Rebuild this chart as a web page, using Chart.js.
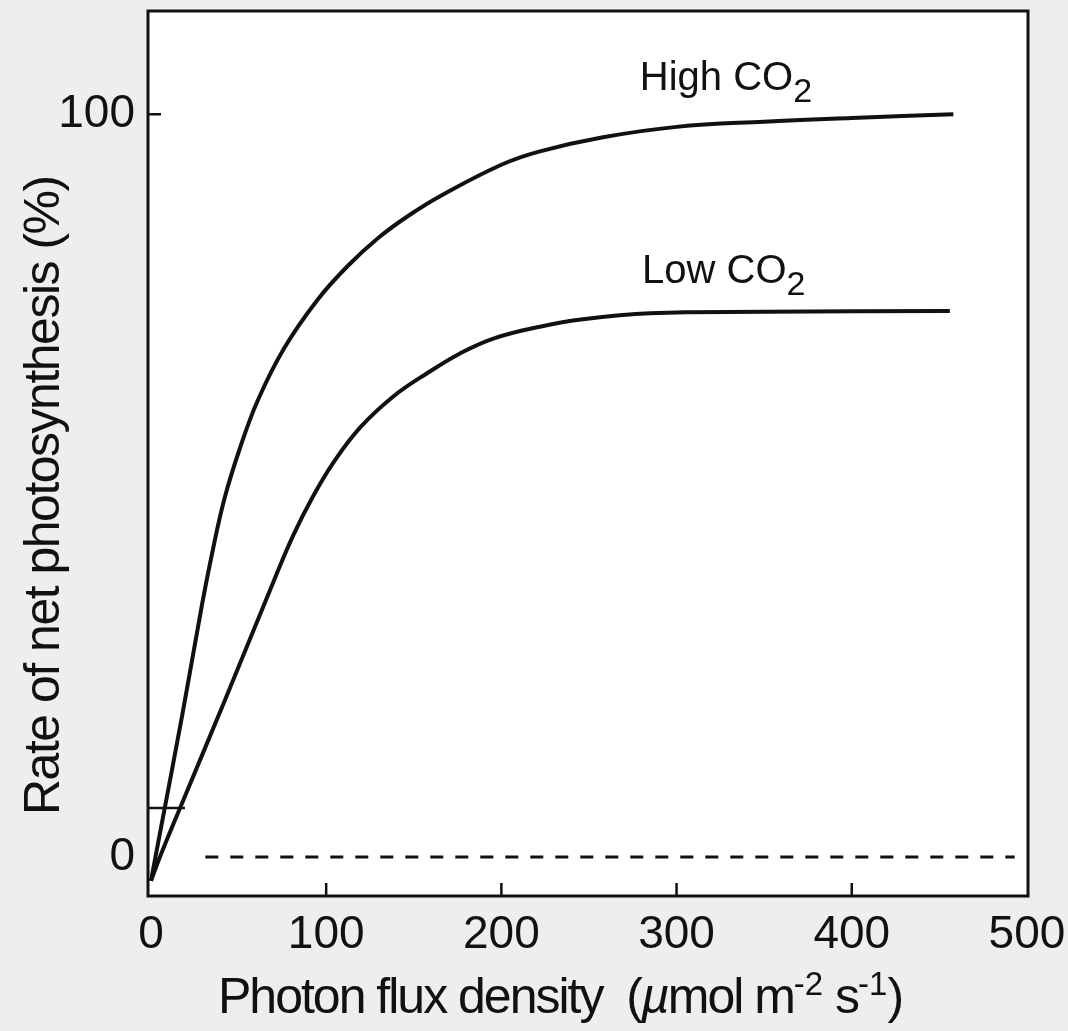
<!DOCTYPE html>
<html>
<head>
<meta charset="utf-8">
<title>Net photosynthesis vs photon flux density</title>
<script src="https://cdn.jsdelivr.net/npm/chart.js@4"></script>
<style>
    html, body { margin: 0; padding: 0; background: #eeeeee; }
    canvas { display: block; }
</style>
</head>
<body>
<canvas id="chart" width="1068" height="1031"></canvas>
<script>
// Photon flux density (umol m-2 s-1) against relative net photosynthesis (%)
const highCo2Flux = [0, 6, 18, 29, 35, 42, 51, 61, 76, 95, 112, 130, 148, 166, 200, 222, 258, 300, 350, 400, 458];
const highCo2Rate = [-3.2, 4.3, 19.3, 33.8, 41, 48.3, 55.2, 61.5, 68.5, 75, 79.5, 83.4, 86.5, 89.1, 93.2, 95, 96.9, 98.3, 99, 99.5, 100];

const lowCo2Flux = [0, 5.1, 16.6, 42.2, 69.8, 81.2, 92.6, 104.1, 119.3, 138.3, 157.4, 176.4, 195.4, 222, 246.6, 284.8, 350, 456];
const lowCo2Rate = [-3.2, 0, 6.6, 21.1, 37, 43.3, 48.6, 53.1, 57.8, 62, 65.1, 67.8, 69.8, 71.4, 72.4, 73.2, 73.4, 73.5];

// dashed zero line and the short mark next to the y axis
const zeroLineFlux = [31, 493];
const zeroLineRate = [0, 0];
const markFlux = [-1.7, 19.4];
const markRate = [6.6, 6.6];

const xTickValues = [0, 100, 200, 300, 400, 500];
const yTickValues = [0, 100];

const FONT = "'Liberation Sans', Arial, Helvetica, sans-serif";
const INK = '#111111';

function toPoints(xs, ys) {
    return xs.map((x, i) => ({ x: x, y: ys[i] }));
}

/**
 * Draw a run of text pieces (for sub/superscripts)
 */
function drawRich(ctx, parts, x, y) {
    let cx = x;
    parts.forEach(p => {
        ctx.font = (p.italic ? 'italic ' : '') + p.size + 'px ' + FONT;
        ctx.letterSpacing = (p.spacing || 0) + 'px';
        ctx.fillText(p.t, cx, y + (p.dy || 0));
        cx += ctx.measureText(p.t).width;
    });
    ctx.letterSpacing = '0px';
}

// grey page, white plot area
const backgroundPlugin = {
    id: 'background',
    beforeDraw(chart) {
        const { ctx, chartArea: a } = chart;
        ctx.save();
        ctx.fillStyle = '#eeeeee';
        ctx.fillRect(0, 0, chart.width, chart.height);
        ctx.fillStyle = '#ffffff';
        ctx.fillRect(a.left, a.top, a.right - a.left, a.bottom - a.top);
        ctx.restore();
    }
};

// frame, inward ticks, titles and curve labels
const decorPlugin = {
    id: 'decor',
    afterDraw(chart) {
        const { ctx, chartArea: a } = chart;
        const xs = chart.scales.x;
        const ys = chart.scales.y;
        ctx.save();
        ctx.strokeStyle = INK;
        ctx.fillStyle = INK;

        ctx.lineWidth = 3;
        ctx.strokeRect(a.left, a.top, a.right - a.left, a.bottom - a.top);

        ctx.lineWidth = 2.5;
        ctx.beginPath();
        xTickValues.forEach(v => {
            if (v <= 0 || v >= 500) return;
            const px = xs.getPixelForValue(v);
            ctx.moveTo(px, a.bottom);
            ctx.lineTo(px, a.bottom - 13);
        });
        const py = ys.getPixelForValue(100);
        ctx.moveTo(a.left, py);
        ctx.lineTo(a.left + 13, py);
        ctx.stroke();

        ctx.textAlign = 'left';
        ctx.textBaseline = 'alphabetic';

        // curve labels
        drawRich(ctx, [
            { t: 'High CO', size: 40 },
            { t: '2', size: 34, dy: 12 }
        ], xs.getPixelForValue(279), ys.getPixelForValue(103.2));
        drawRich(ctx, [
            { t: 'Low CO', size: 40 },
            { t: '2', size: 34, dy: 12 }
        ], xs.getPixelForValue(280.3), ys.getPixelForValue(77.3));

        // x axis title
        drawRich(ctx, [
            { t: 'Photon flux density  (', size: 50, spacing: -2 },
            { t: 'µ', size: 50, italic: true, spacing: -2 },
            { t: 'mol m', size: 50, spacing: -2 },
            { t: '-2', size: 33, dy: -18 },
            { t: ' s', size: 50, spacing: -2 },
            { t: '-1', size: 33, dy: -18 },
            { t: ')', size: 50 }
        ], 218, 1013);

        // y axis title
        ctx.translate(59, 815);
        ctx.rotate(-Math.PI / 2);
        ctx.font = '50px ' + FONT;
        ctx.letterSpacing = '-1.5px';
        ctx.fillText('Rate of net photosynthesis (%)', 0, 0);
        ctx.letterSpacing = '0px';

        ctx.restore();
    }
};

const lineStyle = {
    borderColor: INK,
    borderWidth: 4,
    pointRadius: 0,
    fill: false,
    tension: 0.4
};

new Chart(document.getElementById('chart'), {
    type: 'line',
    data: {
        datasets: [
            Object.assign({ label: 'High CO2', data: toPoints(highCo2Flux, highCo2Rate) }, lineStyle),
            Object.assign({ label: 'Low CO2', data: toPoints(lowCo2Flux, lowCo2Rate) }, lineStyle),
            {
                label: 'zero',
                data: toPoints(zeroLineFlux, zeroLineRate),
                borderColor: INK,
                borderWidth: 3,
                borderDash: [13, 12],
                pointRadius: 0
            },
            {
                label: 'mark',
                data: toPoints(markFlux, markRate),
                borderColor: INK,
                borderWidth: 2.5,
                pointRadius: 0
            }
        ]
    },
    options: {
        responsive: false,
        animation: false,
        devicePixelRatio: 1,
        layout: { padding: { top: 11, right: 40, left: 0, bottom: 0 } },
        plugins: {
            legend: { display: false },
            tooltip: { enabled: false }
        },
        scales: {
            x: {
                type: 'linear',
                min: -1.7,
                max: 500.6,
                afterBuildTicks: s => { s.ticks = xTickValues.map(v => ({ value: v })); },
                afterFit: s => {
                    s.height = 135;
                    s.paddingLeft = 0;
                    s.paddingRight = 0;
                },
                grid: { display: false, drawTicks: false },
                border: { display: false },
                ticks: {
                    color: INK,
                    padding: 12,
                    font: { family: FONT, size: 46 },
                    maxRotation: 0
                }
            },
            y: {
                type: 'linear',
                min: -5.25,
                max: 113.9,
                afterBuildTicks: s => { s.ticks = yTickValues.map(v => ({ value: v })); },
                afterFit: s => {
                    s.width = 148;
                    s.paddingTop = 0;
                    s.paddingBottom = 0;
                },
                grid: { display: false, drawTicks: false },
                border: { display: false },
                ticks: {
                    color: INK,
                    padding: 13,
                    font: { family: FONT, size: 46 }
                }
            }
        }
    },
    plugins: [backgroundPlugin, decorPlugin]
});
</script>
</body>
</html>
